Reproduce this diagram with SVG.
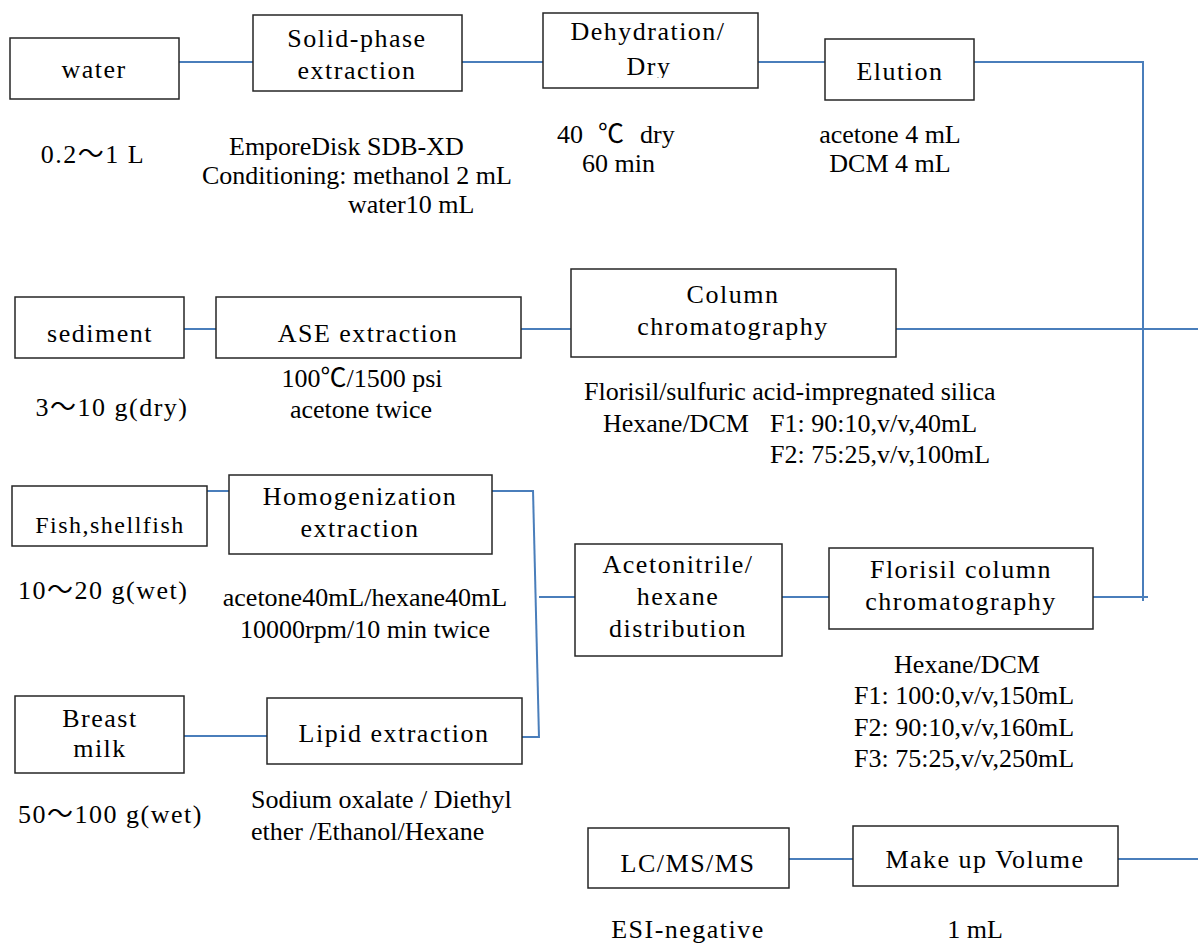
<svg xmlns="http://www.w3.org/2000/svg" width="1198" height="946" viewBox="0 0 1198 946">
<style>
.box{fill:#fff;stroke:#262626;stroke-width:1.5}
.lbl{font-family:"Liberation Serif","Noto Sans CJK JP",serif;font-size:26px;letter-spacing:1.5px;fill:#000;text-anchor:middle}
.ann{font-family:"Liberation Serif","Noto Sans CJK JP",serif;font-size:26px;fill:#000}
.mid{text-anchor:middle}
.st{text-anchor:start}
.conn line{stroke:#4a7ebb;stroke-width:2;fill:none}
</style>
<defs>
<clipPath id="dryclip"><rect x="543" y="13" width="215" height="65"/></clipPath>
</defs>
<rect width="1198" height="946" fill="#fff"/>
<g id="connectors" class="conn">
<line x1="179" y1="62" x2="253" y2="62"/>
<line x1="462" y1="62" x2="543" y2="62"/>
<line x1="758" y1="62" x2="825" y2="62"/>
<line x1="974" y1="62" x2="1143" y2="62"/>
<line x1="1143" y1="61" x2="1143" y2="601"/>
<line x1="184" y1="329" x2="216" y2="329"/>
<line x1="521" y1="329" x2="571" y2="329"/>
<line x1="896" y1="329" x2="1198" y2="329"/>
<line x1="207" y1="491" x2="229" y2="491"/>
<line x1="492" y1="491" x2="533" y2="491"/>
<line x1="533" y1="490" x2="539" y2="738"/>
<line x1="522" y1="737" x2="539" y2="737"/>
<line x1="184" y1="736" x2="267" y2="736"/>
<line x1="539" y1="597" x2="575" y2="597"/>
<line x1="782" y1="597" x2="829" y2="597"/>
<line x1="1093" y1="597" x2="1148" y2="597"/>
<line x1="789" y1="859" x2="853" y2="859"/>
<line x1="1118" y1="859" x2="1198" y2="859"/>
</g>
<g id="water">
<rect class="box" x="10" y="38" width="169" height="61"/>
<text class="lbl" x="94" y="78">water</text>
<text class="lbl" x="93" y="163">0.2～1 L</text>
</g>
<g id="spe">
<rect class="box" x="253" y="15" width="209" height="76"/>
<text class="lbl" x="357" y="47">Solid-phase</text>
<text class="lbl" x="357" y="79">extraction</text>
<text class="ann" x="229" y="155">EmporeDisk SDB-XD</text>
<text class="ann" x="202" y="184">Conditioning: methanol 2 mL</text>
<text class="ann" x="348" y="213">water10 mL</text>
</g>
<g id="dehydration">
<rect class="box" x="543" y="13" width="215" height="75"/>
<text class="lbl" x="648" y="40">Dehydration/</text>
<text class="lbl" x="649" y="75" clip-path="url(#dryclip)">Dry</text>
<text class="ann" y="143"><tspan x="557">40</tspan><tspan x="598">℃</tspan><tspan x="640">dry</tspan></text>
<text class="ann" x="582" y="172">60 min</text>
</g>
<g id="elution">
<rect class="box" x="825" y="39" width="149" height="61"/>
<text class="lbl" x="900" y="80">Elution</text>
<text class="ann mid" x="890" y="143">acetone 4 mL</text>
<text class="ann mid" x="890" y="172">DCM 4 mL</text>
</g>
<g id="sediment">
<rect class="box" x="15" y="297" width="169" height="61"/>
<text class="lbl" x="100" y="342">sediment</text>
<text class="lbl" x="112" y="416">3～10 g(dry)</text>
</g>
<g id="ase">
<rect class="box" x="216" y="297" width="305" height="61"/>
<text class="lbl" x="368" y="342">ASE extraction</text>
<text class="ann mid" x="362" y="387">100℃/1500 psi</text>
<text class="ann mid" x="361" y="418">acetone twice</text>
</g>
<g id="column">
<rect class="box" x="571" y="269" width="325" height="88"/>
<text class="lbl" x="733" y="303">Column</text>
<text class="lbl" x="733" y="335">chromatography</text>
<text class="ann" x="584" y="400">Florisil/sulfuric acid-impregnated silica</text>
<text class="ann" x="603" y="432">Hexane/DCM</text>
<text class="ann" x="770" y="432">F1: 90:10,v/v,40mL</text>
<text class="ann" x="770" y="463">F2: 75:25,v/v,100mL</text>
</g>
<g id="fish">
<rect class="box" x="12" y="486" width="195" height="60"/>
<text class="lbl" x="110" y="533" style="font-size:24px">Fish,shellfish</text>
<text class="lbl st" x="18" y="599">10～20 g(wet)</text>
</g>
<g id="homogenization">
<rect class="box" x="229" y="475" width="263" height="79"/>
<text class="lbl" x="360" y="505">Homogenization</text>
<text class="lbl" x="360" y="537">extraction</text>
<text class="ann mid" x="365" y="606">acetone40mL/hexane40mL</text>
<text class="ann mid" x="365" y="638">10000rpm/10 min twice</text>
</g>
<g id="breast">
<rect class="box" x="15" y="696" width="169" height="77"/>
<text class="lbl" x="100" y="727">Breast</text>
<text class="lbl" x="100" y="757">milk</text>
<text class="lbl st" x="18" y="823">50～100 g(wet)</text>
</g>
<g id="lipid">
<rect class="box" x="267" y="698" width="255" height="66"/>
<text class="lbl" x="394" y="742">Lipid extraction</text>
<text class="ann" x="251" y="808">Sodium oxalate / Diethyl</text>
<text class="ann" x="251" y="840">ether /Ethanol/Hexane</text>
</g>
<g id="acetonitrile">
<rect class="box" x="575" y="544" width="207" height="112"/>
<text class="lbl" x="678" y="573">Acetonitrile/</text>
<text class="lbl" x="678" y="605">hexane</text>
<text class="lbl" x="678" y="637">distribution</text>
</g>
<g id="florisil">
<rect class="box" x="829" y="548" width="264" height="81"/>
<text class="lbl" x="961" y="578">Florisil column</text>
<text class="lbl" x="961" y="610">chromatography</text>
<text class="ann mid" x="967" y="673">Hexane/DCM</text>
<text class="ann" x="854" y="704">F1: 100:0,v/v,150mL</text>
<text class="ann" x="854" y="736">F2: 90:10,v/v,160mL</text>
<text class="ann" x="854" y="767">F3: 75:25,v/v,250mL</text>
</g>
<g id="lcms">
<rect class="box" x="588" y="828" width="201" height="60"/>
<text class="lbl" x="688" y="872">LC/MS/MS</text>
<text class="lbl" x="688" y="938">ESI-negative</text>
</g>
<g id="makeup">
<rect class="box" x="853" y="826" width="265" height="60"/>
<text class="lbl" x="985" y="868">Make up Volume</text>
<text class="ann mid" x="975" y="938">1 mL</text>
</g>
</svg>
